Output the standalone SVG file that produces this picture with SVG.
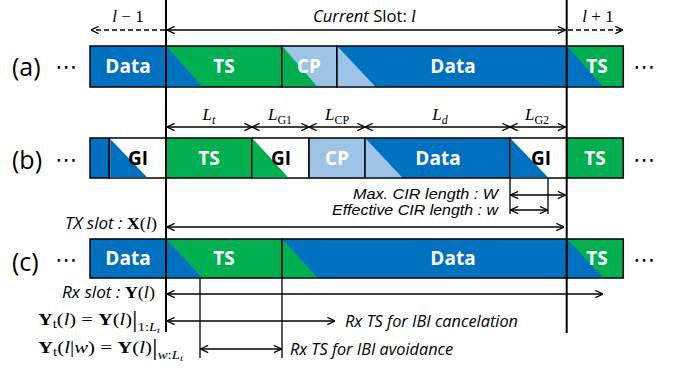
<svg xmlns="http://www.w3.org/2000/svg" width="678" height="370" viewBox="0 0 678 370">
<defs>
<marker id="ah" viewBox="0 0 10 10" refX="9.5" refY="5" markerUnits="userSpaceOnUse" markerWidth="9" markerHeight="9" orient="auto-start-reverse">
<path d="M1,1 L9.5,5 L1,9" fill="none" stroke="#000" stroke-width="1.4"/>
</marker>
<style>
.box{stroke:#000;stroke-width:1.5;}
.blue{fill:#0070C0;}
.green{fill:#00B050;}
.lblue{fill:#9DC3E6;}
.white{fill:#fff;}
.bt{font-family:"Open Sans","Liberation Sans",sans-serif;font-weight:bold;font-size:19px;text-anchor:middle;fill:#fff;}
.bk{fill:#000;}
.rl{font-family:"Open Sans","Liberation Sans",sans-serif;font-size:25px;fill:#000;}
.dots{font-family:"DejaVu Sans",sans-serif;font-size:22px;fill:#000;}
.it{font-family:"Open Sans","Liberation Sans",sans-serif;font-style:italic;font-size:16px;fill:#000;}
.it2{font-family:"Liberation Sans",sans-serif;font-style:italic;font-size:14.5px;fill:#000;}
.m{font-family:"Liberation Serif","DejaVu Serif",serif;font-size:17px;fill:#000;}
.ln{stroke:#000;stroke-width:1.3;fill:none;}
.arr{stroke:#000;stroke-width:1.3;fill:none;marker-end:url(#ah);}
.darr{stroke:#000;stroke-width:1.3;fill:none;marker-start:url(#ah);marker-end:url(#ah);}
.dash{stroke-dasharray:5,3;}
.vl{stroke:#000;stroke-width:2;}
</style>
</defs>

<g id="rowA">
<text class="rl" x="12" y="76">(a)</text>
<text class="dots" x="55" y="74">⋯</text>
<g id="a-data1"><rect class="box blue" x="90" y="46" width="76" height="41"/><text class="bt" x="128" y="73">Data</text></g>
<g id="a-ts"><rect class="box green" x="166" y="46" width="116" height="41"/><polygon class="blue" points="166.8,46.8 202,86.2 166.8,86.2"/><text class="bt" x="224" y="73">TS</text></g>
<g id="a-cp"><rect class="box lblue" x="282" y="46" width="55" height="41"/><polygon class="green" points="282.8,46.8 317,86.2 282.8,86.2"/><text class="bt" x="309" y="73">CP</text></g>
<g id="a-data2"><rect class="box blue" x="337" y="46" width="229.7" height="41"/><polygon class="lblue" points="337.8,46.8 375,86.2 337.8,86.2"/><text class="bt" x="453" y="73">Data</text></g>
<g id="a-ts2"><rect class="box green" x="566.7" y="46" width="56.6" height="41"/><polygon class="blue" points="567.5,46.8 603,86.2 567.5,86.2"/><text class="bt" x="597" y="73">TS</text></g>
<text class="dots" x="633" y="74">⋯</text>
</g>

<g id="rowB">
<text class="rl" x="12" y="169">(b)</text>
<text class="dots" x="55" y="167">⋯</text>
<g id="b-data0"><rect class="box blue" x="90" y="138" width="19.3" height="40"/></g>
<g id="b-gi0"><rect class="box white" x="109.3" y="138" width="56.7" height="40"/><polygon class="blue" points="110.1,138.8 147,177.2 110.1,177.2"/><text class="bt bk" x="138" y="165">GI</text></g>
<g id="b-ts"><rect class="box green" x="166" y="138" width="86" height="40"/><text class="bt" x="209" y="165">TS</text></g>
<g id="b-gi1"><rect class="box white" x="252" y="138" width="57" height="40"/><polygon class="green" points="252.8,138.8 288,177.2 252.8,177.2"/><text class="bt bk" x="281" y="165">GI</text></g>
<g id="b-cp"><rect class="box lblue" x="309" y="138" width="56" height="40"/><text class="bt" x="337" y="165">CP</text></g>
<g id="b-data"><rect class="box blue" x="365" y="138" width="145" height="40"/><polygon class="lblue" points="365.8,138.8 402,177.2 365.8,177.2"/><text class="bt" x="438" y="165">Data</text></g>
<g id="b-gi2"><rect class="box white" x="510" y="138" width="56.7" height="40"/><polygon class="blue" points="510.8,138.8 548,177.2 510.8,177.2"/><text class="bt bk" x="541" y="165">GI</text></g>
<g id="b-ts2"><rect class="box green" x="566.7" y="138" width="56.6" height="40"/><text class="bt" x="595" y="165">TS</text></g>
<text class="dots" x="633" y="167">⋯</text>
</g>

<g id="rowC">
<text class="rl" x="12" y="271">(c)</text>
<text class="dots" x="55" y="267">⋯</text>
<g id="c-data1"><rect class="box blue" x="90" y="239" width="76" height="39"/><text class="bt" x="128" y="265">Data</text></g>
<g id="c-ts"><rect class="box green" x="166" y="239" width="116" height="39"/><polygon class="blue" points="166.8,239.8 202,277.2 166.8,277.2"/><text class="bt" x="224" y="265">TS</text></g>
<g id="c-data2"><rect class="box blue" x="282" y="239" width="284.7" height="39"/><polygon class="green" points="282.8,239.8 317,277.2 282.8,277.2"/><text class="bt" x="453" y="265">Data</text></g>
<g id="c-ts2"><rect class="box green" x="566.7" y="239" width="56.6" height="39"/><polygon class="blue" points="567.5,239.8 603,277.2 567.5,277.2"/><text class="bt" x="597" y="265">TS</text></g>
<text class="dots" x="633" y="267">⋯</text>
</g>

<g id="connectors">
<line class="vl" x1="166" y1="0" x2="166" y2="332"/>
<line class="vl" x1="566.7" y1="0" x2="566.7" y2="333"/>
<line class="arr dash" x1="165" y1="30" x2="91" y2="30"/>
<line class="darr" x1="167" y1="30" x2="565.5" y2="30"/>
<line class="arr dash" x1="568" y1="30" x2="623" y2="30"/>
<line class="darr" x1="167" y1="127" x2="252" y2="127"/>
<line class="darr" x1="252" y1="127" x2="309" y2="127"/>
<line class="darr" x1="309" y1="127" x2="365" y2="127"/>
<line class="darr" x1="365" y1="127" x2="510" y2="127"/>
<line class="darr" x1="510" y1="127" x2="565.5" y2="127"/>
<line class="ln" x1="510" y1="178" x2="510" y2="214"/>
<line class="ln" x1="548" y1="178" x2="548" y2="214"/>
<line class="darr" x1="510.5" y1="195" x2="565.5" y2="195"/>
<line class="darr" x1="510.5" y1="210" x2="547.5" y2="210"/>
<line class="darr" x1="167" y1="227" x2="564" y2="227"/>
<line class="ln" x1="200" y1="278" x2="200" y2="358"/>
<line class="ln" x1="282" y1="278" x2="282" y2="358"/>
<line class="darr" x1="167" y1="294" x2="603" y2="294"/>
<line class="darr" x1="167" y1="321" x2="335" y2="321"/>
<line class="darr" x1="200.5" y1="349" x2="281.5" y2="349"/>
</g>

<g id="labels">
<text class="m" x="128" y="22" text-anchor="middle" font-size="18"><tspan font-style="italic">l</tspan> − 1</text>
<text x="313" y="22" class="it" textLength="103" lengthAdjust="spacingAndGlyphs"><tspan>Current</tspan><tspan font-style="normal"> Slot: </tspan><tspan class="m" font-style="italic" font-size="18">l</tspan></text>
<text class="m" x="598" y="22" text-anchor="middle" font-size="18"><tspan font-style="italic">l</tspan> + 1</text>

<text class="m" x="209" y="120" text-anchor="middle"><tspan font-style="italic">L</tspan><tspan font-style="italic" font-size="12" dy="4">t</tspan></text>
<text class="m" x="280" y="120" text-anchor="middle"><tspan font-style="italic">L</tspan><tspan font-size="12" dy="4">G1</tspan></text>
<text class="m" x="337" y="120" text-anchor="middle"><tspan font-style="italic">L</tspan><tspan font-size="12" dy="4">CP</tspan></text>
<text class="m" x="440" y="120" text-anchor="middle"><tspan font-style="italic">L</tspan><tspan font-style="italic" font-size="12" dy="4">d</tspan></text>
<text class="m" x="537" y="120" text-anchor="middle"><tspan font-style="italic">L</tspan><tspan font-size="12" dy="4">G2</tspan></text>

<text class="it2" x="353" y="199" textLength="145" lengthAdjust="spacingAndGlyphs">Max. CIR length : W</text>
<text class="it2" x="332" y="215" textLength="166" lengthAdjust="spacingAndGlyphs">Effective CIR length : w</text>

<text class="it" x="65" y="229" textLength="92" lengthAdjust="spacingAndGlyphs">TX slot : <tspan class="m" font-style="normal" font-weight="bold" font-size="18">X</tspan><tspan class="m" font-style="normal" font-size="18">(</tspan><tspan class="m" font-size="18">l</tspan><tspan class="m" font-style="normal" font-size="18">)</tspan></text>
<text class="it" x="62" y="298" textLength="93" lengthAdjust="spacingAndGlyphs">Rx slot : <tspan class="m" font-style="normal" font-weight="bold" font-size="18">Y</tspan><tspan class="m" font-style="normal" font-size="18">(</tspan><tspan class="m" font-size="18">l</tspan><tspan class="m" font-style="normal" font-size="18">)</tspan></text>

<text class="m" x="38" y="325" font-size="18" textLength="122" lengthAdjust="spacingAndGlyphs"><tspan font-weight="bold">Y</tspan><tspan font-size="12" dy="3">t</tspan><tspan dy="-3">(</tspan><tspan font-style="italic">l</tspan>) = <tspan font-weight="bold">Y</tspan>(<tspan font-style="italic">l</tspan>)<tspan font-size="23" dy="2">|</tspan><tspan font-size="12" dy="4">1:</tspan><tspan font-size="12" font-style="italic">L</tspan><tspan font-size="9" font-style="italic" dy="2">t</tspan></text>
<text class="m" x="38" y="353" font-size="18" textLength="145" lengthAdjust="spacingAndGlyphs"><tspan font-weight="bold">Y</tspan><tspan font-size="12" dy="3">t</tspan><tspan dy="-3">(</tspan><tspan font-style="italic">l</tspan>|<tspan font-style="italic">w</tspan>) = <tspan font-weight="bold">Y</tspan>(<tspan font-style="italic">l</tspan>)<tspan font-size="23" dy="2">|</tspan><tspan font-size="12" font-style="italic" dy="4">w</tspan><tspan font-size="12">:</tspan><tspan font-size="12" font-style="italic">L</tspan><tspan font-size="9" font-style="italic" dy="2">t</tspan></text>

<text class="it" x="345" y="327" textLength="173" lengthAdjust="spacingAndGlyphs">Rx TS for IBI cancelation</text>
<text class="it" x="290" y="355" textLength="163" lengthAdjust="spacingAndGlyphs">Rx TS for IBI avoidance</text>
</g>
</svg>
